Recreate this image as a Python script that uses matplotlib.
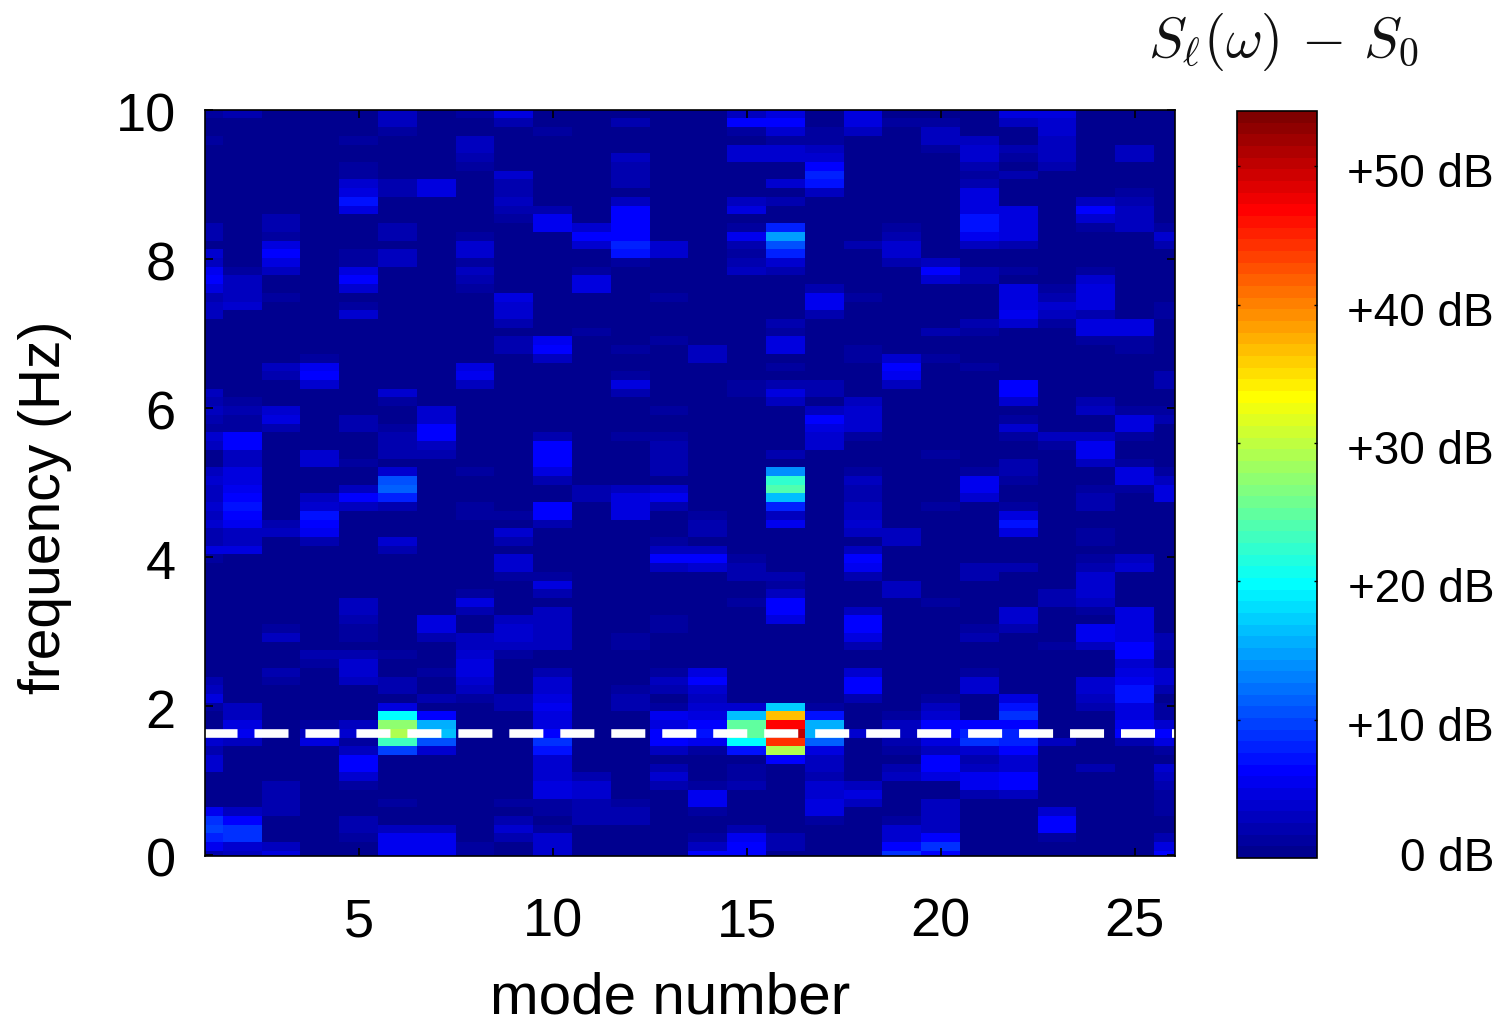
import numpy as np
import matplotlib
matplotlib.use("Agg")
import matplotlib.pyplot as plt
from matplotlib.colors import ListedColormap
from matplotlib.transforms import ScaledTranslation

# Spectrum, mode by mode.
# {row: colour step}, rows counted from the top (10 Hz) down, the rest is step 0.
mode_01 = {0: 1, 3: 1, 13: 2, 14: 2, 16: 4, 17: 3, 18: 6, 19: 7, 20: 5, 21: 2, 22: 3, 23: 3,
           32: 3, 33: 2, 34: 3, 35: 2, 36: 1, 37: 4, 38: 3, 41: 3, 42: 4, 43: 3, 44: 3, 45: 4,
           46: 3, 47: 4, 48: 2, 49: 2, 50: 5, 51: 1, 65: 2, 66: 3, 67: 5, 68: 1, 71: 3, 72: 4,
           73: 2, 74: 4, 75: 4, 80: 6, 81: 10, 82: 11, 83: 9, 84: 6, 85: 2}
mode_02 = {0: 2, 18: 1, 19: 3, 20: 3, 21: 3, 22: 4, 33: 1, 34: 2, 35: 1, 36: 1, 37: 7, 38: 7,
           39: 3, 40: 3, 41: 5, 42: 5, 43: 6, 44: 7, 45: 8, 46: 7, 47: 6, 48: 3, 49: 3, 50: 5,
           68: 3, 69: 3, 70: 5, 71: 6, 72: 3, 80: 3, 81: 7, 82: 10, 83: 10, 84: 4, 85: 3}
mode_03 = {12: 2, 13: 2, 14: 1, 15: 5, 16: 7, 17: 5, 18: 3, 21: 1, 29: 3, 30: 2, 34: 4, 35: 5,
           36: 2, 47: 2, 48: 3, 59: 1, 60: 3, 64: 2, 65: 1, 77: 2, 78: 2, 79: 2, 80: 2, 84: 3, 85: 5}
mode_04 = {28: 1, 29: 6, 30: 7, 31: 4, 39: 4, 40: 4, 44: 3, 45: 4, 46: 8, 47: 7, 48: 6, 49: 2,
           62: 2, 63: 1, 70: 1, 71: 3, 72: 5}
mode_05 = {3: 1, 6: 1, 7: 1, 8: 4, 9: 5, 10: 8, 11: 5, 16: 1, 17: 1, 18: 5, 19: 7, 20: 4, 22: 1,
           23: 4, 35: 2, 36: 2, 40: 1, 43: 3, 44: 7, 45: 3, 56: 3, 57: 3, 58: 2, 59: 1, 60: 1,
           62: 2, 63: 4, 64: 4, 65: 3, 70: 3, 71: 4, 72: 1, 73: 3, 74: 7, 75: 7, 76: 4, 77: 1,
           81: 2, 82: 2, 83: 1}
mode_06 = {0: 3, 1: 3, 2: 1, 8: 2, 9: 2, 13: 2, 14: 2, 16: 3, 17: 3, 32: 4, 33: 1, 36: 1, 37: 2,
           38: 2, 39: 2, 41: 4, 42: 12, 43: 13, 44: 9, 45: 2, 49: 4, 50: 2, 62: 1, 65: 2, 66: 2,
           68: 5, 69: 23, 70: 32, 71: 34, 72: 27, 73: 11, 79: 1, 82: 3, 83: 6, 84: 6, 85: 6}
mode_07 = {8: 5, 9: 5, 34: 4, 35: 4, 36: 7, 37: 7, 38: 3, 39: 2, 58: 5, 59: 5, 60: 2, 64: 1,
           67: 2, 69: 7, 70: 18, 71: 19, 72: 12, 73: 4, 82: 3, 83: 6, 84: 6, 85: 6}
mode_08 = {0: 1, 3: 3, 4: 3, 5: 2, 6: 1, 14: 1, 15: 4, 16: 4, 17: 1, 18: 3, 19: 2, 20: 1,
           29: 5, 30: 6, 31: 3, 41: 1, 45: 1, 46: 1, 55: 1, 56: 5, 57: 2, 60: 3, 61: 3, 62: 4,
           63: 5, 64: 5, 65: 4, 66: 3, 67: 1, 84: 1, 85: 1}
mode_09 = {0: 5, 1: 2, 7: 4, 8: 2, 9: 2, 10: 3, 11: 2, 12: 1, 21: 5, 22: 4, 23: 4, 24: 2, 26: 2,
           27: 2, 46: 1, 48: 4, 49: 2, 51: 4, 52: 4, 53: 1, 58: 3, 59: 4, 60: 4, 61: 3, 62: 1,
           67: 2, 68: 2, 79: 1, 81: 2, 82: 4, 83: 2}
mode_10 = {2: 1, 11: 2, 12: 6, 13: 6, 26: 6, 27: 7, 28: 3, 37: 2, 38: 7, 39: 7, 40: 7, 41: 5,
           42: 2, 45: 7, 46: 7, 47: 2, 53: 1, 54: 5, 55: 2, 57: 3, 58: 3, 59: 3, 60: 3, 61: 3,
           64: 2, 65: 4, 66: 4, 67: 5, 68: 6, 69: 5, 70: 5, 71: 7, 72: 10, 73: 8, 74: 4, 75: 4,
           76: 4, 77: 5, 78: 5, 79: 1, 80: 1, 82: 1, 83: 4, 84: 4, 85: 4}
mode_11 = {13: 4, 14: 7, 15: 4, 18: 1, 19: 5, 20: 5, 25: 1, 43: 2, 44: 2, 76: 2, 77: 4, 78: 4,
           79: 2, 80: 2, 81: 2}
mode_12 = {1: 2, 5: 3, 6: 2, 7: 2, 8: 2, 10: 3, 11: 7, 12: 7, 13: 7, 14: 7, 15: 9, 16: 8, 17: 1,
           27: 1, 30: 1, 31: 5, 32: 2, 37: 1, 43: 3, 44: 5, 45: 5, 46: 5, 60: 1, 61: 1, 66: 1,
           67: 2, 68: 2, 79: 1, 80: 2, 81: 2}
mode_13 = {15: 4, 16: 4, 21: 1, 26: 1, 34: 1, 37: 1, 38: 2, 39: 2, 40: 2, 41: 2, 43: 4, 44: 6,
           45: 2, 49: 1, 50: 3, 51: 7, 52: 3, 58: 1, 59: 1, 64: 1, 65: 3, 66: 2, 68: 1, 69: 6,
           70: 5, 71: 7, 72: 7, 73: 3, 75: 2, 76: 4, 77: 2}
mode_14 = {27: 3, 28: 3, 46: 1, 47: 2, 48: 2, 50: 3, 51: 7, 52: 4, 64: 5, 65: 7, 66: 4, 67: 3,
           68: 4, 69: 5, 70: 7, 71: 8, 72: 6, 73: 1, 77: 1, 78: 6, 79: 6, 80: 1, 83: 1, 84: 3, 85: 7}
mode_15 = {0: 3, 1: 7, 2: 1, 4: 4, 5: 4, 10: 3, 11: 5, 13: 1, 14: 6, 15: 2, 16: 1, 17: 2, 18: 3,
           31: 1, 32: 1, 51: 1, 52: 2, 53: 2, 56: 1, 68: 4, 69: 19, 70: 29, 71: 29, 72: 23, 73: 8,
           75: 1, 76: 1, 77: 2, 82: 2, 83: 6, 84: 7, 85: 7}
mode_16 = {0: 5, 1: 7, 2: 4, 3: 1, 4: 4, 5: 4, 8: 4, 10: 2, 13: 9, 14: 17, 15: 12, 16: 9, 17: 4,
           18: 2, 24: 2, 25: 1, 26: 5, 27: 5, 29: 1, 31: 2, 32: 5, 33: 3, 39: 2, 41: 16, 42: 26,
           43: 28, 44: 19, 45: 9, 46: 3, 47: 6, 53: 2, 54: 1, 55: 3, 56: 7, 57: 7, 58: 5,
           68: 20, 69: 43, 70: 55, 71: 59, 72: 52, 73: 34, 74: 7, 83: 2, 84: 2}
mode_17 = {2: 1, 3: 1, 4: 3, 5: 4, 6: 7, 7: 9, 8: 8, 9: 3, 20: 2, 21: 6, 22: 6, 23: 2, 31: 2,
           32: 2, 34: 3, 35: 7, 36: 5, 37: 4, 38: 4, 68: 1, 69: 8, 70: 18, 71: 18, 72: 13, 73: 5,
           74: 3, 75: 3, 76: 2, 77: 4, 78: 4, 79: 5, 80: 5, 81: 1}
mode_18 = {0: 5, 1: 5, 2: 3, 15: 2, 21: 1, 27: 1, 28: 1, 33: 3, 34: 4, 35: 4, 36: 4, 37: 1, 41: 1,
           42: 3, 43: 2, 44: 2, 45: 3, 46: 3, 47: 4, 48: 3, 50: 3, 51: 7, 52: 6, 53: 2, 57: 3,
           58: 7, 59: 7, 60: 5, 61: 2, 64: 4, 65: 7, 66: 7, 67: 2, 71: 4, 77: 3, 78: 5, 79: 3}
mode_19 = {1: 1, 13: 1, 14: 2, 15: 4, 16: 4, 17: 2, 28: 4, 29: 7, 30: 6, 31: 3, 48: 3, 49: 3,
           54: 3, 55: 3, 69: 1, 70: 3, 71: 3, 72: 2, 73: 1, 75: 2, 76: 3, 81: 1, 82: 4, 83: 4,
           84: 7, 85: 10}
mode_20 = {1: 1, 2: 3, 3: 3, 4: 1, 17: 3, 18: 7, 19: 4, 25: 2, 28: 1, 39: 1, 45: 1, 56: 1, 67: 1,
           68: 3, 69: 4, 70: 7, 71: 7, 72: 5, 73: 3, 74: 7, 75: 7, 76: 5, 79: 3, 80: 3, 81: 3,
           82: 3, 83: 7, 84: 10, 85: 7}
mode_21 = {3: 3, 4: 4, 5: 4, 6: 2, 7: 1, 8: 2, 9: 5, 10: 5, 11: 5, 12: 8, 13: 8, 14: 6, 15: 3,
           18: 2, 19: 2, 24: 2, 25: 1, 29: 1, 41: 1, 42: 6, 43: 6, 44: 4, 52: 2, 53: 2, 59: 1,
           60: 2, 64: 1, 65: 4, 66: 4, 70: 7, 71: 9, 72: 10, 73: 4, 74: 2, 75: 3, 76: 6, 77: 6, 78: 2}
mode_22 = {0: 5, 1: 3, 4: 2, 5: 1, 7: 2, 11: 5, 12: 5, 13: 5, 14: 5, 15: 2, 18: 1, 20: 5, 21: 5,
           22: 5, 23: 6, 24: 4, 31: 7, 32: 7, 33: 4, 35: 1, 36: 4, 37: 1, 40: 2, 41: 2, 42: 1,
           45: 1, 46: 5, 47: 8, 48: 5, 52: 2, 57: 4, 58: 4, 59: 2, 67: 5, 68: 8, 69: 10, 70: 7,
           71: 9, 72: 9, 73: 7, 74: 4, 75: 4, 76: 7, 77: 7, 78: 3}
mode_23 = {0: 5, 1: 4, 2: 4, 3: 3, 4: 3, 5: 3, 6: 2, 20: 1, 21: 2, 22: 4, 23: 3, 24: 1, 37: 3,
           38: 1, 55: 2, 56: 2, 61: 1, 72: 3, 80: 4, 81: 7, 82: 7, 83: 1}
mode_24 = {10: 3, 11: 7, 12: 4, 13: 1, 18: 1, 19: 4, 20: 5, 21: 5, 22: 5, 23: 2, 24: 5, 25: 5,
           26: 1, 33: 2, 34: 3, 37: 3, 38: 6, 39: 6, 40: 3, 43: 1, 44: 2, 45: 2, 48: 1, 49: 1,
           51: 1, 52: 2, 53: 4, 54: 4, 55: 4, 56: 3, 57: 1, 59: 6, 60: 6, 61: 3, 65: 4, 66: 4,
           67: 3, 68: 2, 75: 2}
mode_25 = {4: 3, 5: 3, 9: 1, 10: 2, 11: 3, 12: 3, 13: 3, 24: 5, 25: 5, 26: 1, 27: 1, 34: 1, 35: 5,
           36: 5, 37: 1, 40: 1, 41: 5, 42: 5, 43: 1, 51: 3, 52: 4, 57: 5, 58: 5, 59: 5, 60: 5,
           61: 7, 62: 7, 63: 4, 64: 5, 65: 6, 66: 8, 67: 8, 68: 5, 69: 5, 70: 6, 71: 7, 72: 2}
mode_26 = {13: 1, 14: 4, 15: 2, 22: 1, 23: 1, 30: 2, 31: 2, 34: 1, 35: 2, 41: 1, 42: 3, 43: 5,
           44: 5, 60: 2, 61: 2, 62: 1, 63: 1, 64: 4, 65: 4, 66: 2, 68: 1, 69: 1, 70: 4, 71: 7,
           72: 5, 73: 1, 75: 4, 76: 3, 77: 2, 78: 1, 79: 1, 80: 1, 83: 2, 84: 5, 85: 7}

modes = [mode_01, mode_02, mode_03, mode_04, mode_05, mode_06, mode_07, mode_08, mode_09,
         mode_10, mode_11, mode_12, mode_13, mode_14, mode_15, mode_16, mode_17, mode_18,
         mode_19, mode_20, mode_21, mode_22, mode_23, mode_24, mode_25, mode_26]

freq_step = 0.117  # Hz per row
n_rows = 86
db_max = 54.0
n_colours = 64
db_per_step = db_max / n_colours
dashed_freq = 1.64

x_ticks = [5, 10, 15, 20, 25]
y_ticks = [0, 2, 4, 6, 8, 10]
cbar_ticks = [50, 40, 30, 20, 10, 0]
cbar_labels = ["+50 dB", "+40 dB", "+30 dB", "+20 dB", "+10 dB", "0 dB"]

W, H = 1501, 1028
plt.rcParams["font.family"] = ["Liberation Sans", "DejaVu Sans"]
plt.rcParams["mathtext.fontset"] = "cm"

# Same 64 colours as the old jet map, darkest blue a bit lighter than matplotlib's.
x = (np.arange(n_colours) + 1) / n_colours
jet64 = ListedColormap(np.column_stack([
    np.interp(x, [3/8, 5/8, 7/8, 1], [0, 1, 1, 0.5]),
    np.interp(x, [1/8, 3/8, 5/8, 7/8], [0, 1, 1, 0]),
    np.interp(x, [0, 1/8, 3/8, 5/8], [0.5, 1, 1, 0]),
]))


def px_axes(fig, left, top, right, bottom):
    return fig.add_axes([left / W, 1 - bottom / H, (right - left) / W, (bottom - top) / H])


spectrum = np.zeros((n_rows, len(modes)))
for col, mode in enumerate(modes):
    for row, step in mode.items():
        spectrum[n_rows - 1 - row, col] = (step + 0.5) * db_per_step
spectrum[spectrum == 0] = 0.5 * db_per_step

fig = plt.figure(figsize=(W / 100, H / 100), dpi=100)
ax = px_axes(fig, 205, 110, 1175, 856)

x_edges = np.arange(len(modes) + 1) + 0.5
y_edges = (np.arange(n_rows + 1) - 0.5) * freq_step
mesh = ax.pcolormesh(x_edges, y_edges, spectrum, cmap=jet64, vmin=0, vmax=db_max)
ax.plot([1, 26.2], [dashed_freq, dashed_freq], color="white", lw=6.2,
        dashes=(24.5 / 6.2, 12.2 / 6.2), dash_capstyle="butt")

ax.set_xlim(1.04, 26.04)
ax.set_ylim(-0.01, 10.0)
ax.set_xticks(x_ticks)
ax.set_yticks(y_ticks)
ax.tick_params(direction="in", top=True, right=True, length=6, width=1.2, color="black",
               labelsize=39)
ax.tick_params(axis="x", pad=30)
ax.tick_params(axis="y", pad=21)
# tick numbers sit a little below their ticks in the original
for label in ax.get_yticklabels():
    label.set_transform(label.get_transform() + ScaledTranslation(0, -2 / 100, fig.dpi_scale_trans))
for spine in ax.spines.values():
    spine.set_linewidth(1.2)
ax.set_xlabel("mode number", fontsize=42)
ax.xaxis.set_label_coords(0.480, -0.155)
ax.set_ylabel("frequency (Hz)", fontsize=41)
ax.yaxis.set_label_coords(-0.137, 0.468)

cax = px_axes(fig, 1237, 111, 1317, 858)
cbar = fig.colorbar(mesh, cax=cax)
cbar.set_ticks(cbar_ticks[:-1])
cbar.set_ticklabels([])
cax.tick_params(direction="in", left=True, right=True, length=2, width=1)
cbar.outline.set_linewidth(1.2)
for db, label in zip(cbar_ticks, cbar_labels):
    cax.annotate(label, xy=(1, db), xycoords=cax.get_yaxis_transform(),
                 xytext=(177, -1 if db == 0 else -9), textcoords="offset pixels",
                 ha="right", va="center", fontsize=33)

fig.text(1283 / W, 1 - 42 / H, r"$S_{\ell}(\omega)\,-\,S_0$", fontsize=41, ha="center",
         va="center", color="#111111")

fig.savefig("out.png", dpi=100)
